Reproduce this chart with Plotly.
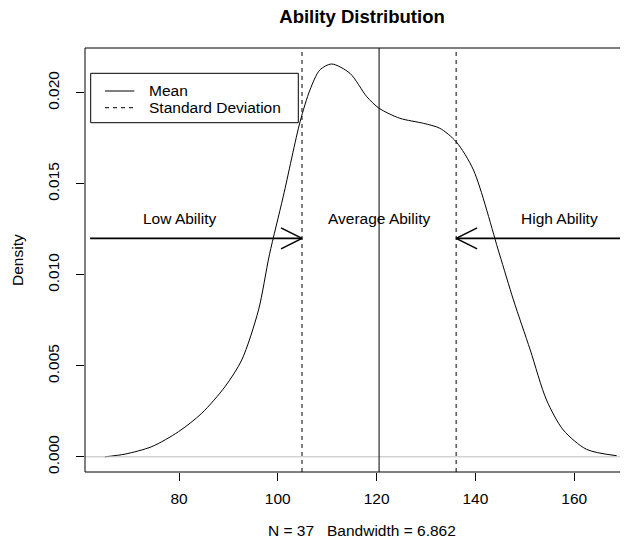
import plotly.graph_objects as go

# ---- data ----
DENS_X = [65.0, 69.1, 74.5, 79.9, 84.6, 89.3, 92.7, 96.1, 98.3, 101.1, 104.5, 106.5, 108.5,
          110.9, 114.6, 118.0, 120.5, 124.7, 129.5, 132.8, 136.1, 139.6, 144.8, 147.7,
          151.1, 154.4, 157.8, 162.5, 168.6]
DENS_Y = [0.0000, 0.00015, 0.00056, 0.00138, 0.00239, 0.00385, 0.00532, 0.00807, 0.0111,
          0.0143, 0.0184, 0.02015, 0.02125, 0.02158, 0.02107, 0.01979, 0.01915, 0.0186,
          0.01832, 0.01805, 0.01731, 0.01576, 0.0112, 0.00862, 0.00587, 0.00312, 0.00147,
          0.00041, 0.00006]
MEAN = 120.5
SD = 15.6
X_TICKS = [80, 100, 120, 140, 160]
Y_TICKS = [0.000, 0.005, 0.010, 0.015, 0.020]
Y_TICK_TEXT = ["0.000", "0.005", "0.010", "0.015", "0.020"]
REGION_LABELS = ["Low Ability", "Average Ability", "High Ability"]
REGION_LABEL_X = [80.0, MEAN, 157.1]
REGION_LABEL_Y = 0.0131
ARROW_Y = 0.012
LOW_ARROW_START = 62.0
HIGH_ARROW_START = 176.0
TITLE = "Ability Distribution"
XLAB = "N = 37\u00a0\u00a0\u00a0Bandwidth = 6.862"
YLAB = "Density"
LEGEND_ITEMS = ["Mean", "Standard Deviation"]

# ---- layout geometry (page has an 8px body margin) ----
OFF = 8
W, H = 628 - OFF, 542 - OFF
L, R, T, B = 85 - OFF, 0, 48 - OFF, 542 - 472
PW, PH = W - L - R, H - T - B
XR = [60.97, 170.89]
YR = [-0.000835, 0.02246]
FONT = "Liberation Sans, Arial, Helvetica, sans-serif"
FS = 15.5

def px_x(p):
    return (p - OFF - L) / PW

def px_y(p):
    return (H - B - (p - OFF)) / PH

xs_per_px = (XR[1] - XR[0]) / PW
ys_per_px = (YR[1] - YR[0]) / PH

fig = go.Figure()

# density curve
fig.add_trace(go.Scatter(x=DENS_X, y=DENS_Y, mode="lines",
                         line=dict(color="black", width=1, shape="spline", smoothing=0.8),
                         showlegend=False, hoverinfo="skip"))

# arrows (shaft + open head)
def arrow(x0, x1, y):
    d = 1 if x1 > x0 else -1
    hx = 21 * xs_per_px
    hy = 10.5 * ys_per_px
    xs = [x0, x1, None, x1 - d * hx, x1, x1 - d * hx]
    ys = [y, y, None, y + hy, y, y - hy]
    return go.Scatter(x=xs, y=ys, mode="lines", line=dict(color="black", width=1.6),
                      showlegend=False, hoverinfo="skip")

fig.add_trace(arrow(LOW_ARROW_START, MEAN - SD, ARROW_Y))
fig.add_trace(arrow(HIGH_ARROW_START, MEAN + SD, ARROW_Y))

shapes = []
# gray zero line
shapes.append(dict(type="line", xref="paper", yref="y", x0=0, x1=1, y0=0, y1=0,
                   line=dict(color="#BEBEBE", width=1)))
# mean and sd lines
shapes.append(dict(type="line", xref="x", yref="paper", x0=MEAN, x1=MEAN, y0=0, y1=1,
                   line=dict(color="black", width=1)))
for v in (MEAN - SD, MEAN + SD):
    shapes.append(dict(type="line", xref="x", yref="paper", x0=v, x1=v, y0=0, y1=1,
                       line=dict(color="black", width=1, dash="4px,4px")))
# box (right side clipped off in reference)
for (x0, y0, x1, y1) in [(0, 0, 0, 1), (0, 1, 1, 1), (0, 0, 1, 0)]:
    shapes.append(dict(type="line", xref="paper", yref="paper", x0=x0, y0=y0, x1=x1, y1=y1,
                       line=dict(color="black", width=1)))
# legend box
shapes.append(dict(type="rect", xref="paper", yref="paper",
                   x0=px_x(90.7), x1=px_x(298.3), y0=px_y(122.7), y1=px_y(73.3),
                   line=dict(color="black", width=1), fillcolor="white"))
shapes.append(dict(type="line", xref="paper", yref="paper",
                   x0=px_x(105), x1=px_x(134.3), y0=px_y(91), y1=px_y(91),
                   line=dict(color="black", width=1)))
shapes.append(dict(type="line", xref="paper", yref="paper",
                   x0=px_x(105), x1=px_x(134.3), y0=px_y(107.7), y1=px_y(107.7),
                   line=dict(color="black", width=1, dash="4px,4px")))

annotations = []
for txt, x in zip(REGION_LABELS, REGION_LABEL_X):
    annotations.append(dict(text=txt, x=x, y=REGION_LABEL_Y, xref="x", yref="y",
                            showarrow=False, xanchor="center", yanchor="middle",
                            font=dict(size=FS, color="black", family=FONT)))
for txt, yp in zip(LEGEND_ITEMS, (91, 107.7)):
    annotations.append(dict(text=txt, x=px_x(147), y=px_y(yp), xref="paper", yref="paper",
                            showarrow=False, xanchor="left", yanchor="middle",
                            font=dict(size=FS, color="black", family=FONT)))
annotations.append(dict(text=XLAB, x=px_x(362), y=px_y(530), xref="paper", yref="paper",
                        showarrow=False, xanchor="center", yanchor="middle",
                        font=dict(size=FS, color="black", family=FONT)))
annotations.append(dict(text=YLAB, x=px_x(17), y=px_y(260), xref="paper", yref="paper",
                        showarrow=False, xanchor="center", yanchor="middle", textangle=-90,
                        font=dict(size=FS, color="black", family=FONT)))

fig.update_layout(
    width=W, height=H,
    margin=dict(l=L, r=R, t=T, b=B, pad=0),
    paper_bgcolor="white", plot_bgcolor="white",
    font=dict(family=FONT, size=FS, color="black"),
    title=dict(text="<b>" + TITLE + "</b>", x=px_x(362), xref="paper", xanchor="center",
               y=1 - (17 - OFF) / H, yref="container", yanchor="middle",
               font=dict(size=18.5, color="black", family=FONT)),
    showlegend=False,
    shapes=shapes,
    annotations=annotations,
    xaxis=dict(range=XR, tickvals=X_TICKS, ticks="outside", ticklen=8, tickwidth=1,
               tickcolor="black", showgrid=False, zeroline=False, showline=False,
               tickfont=dict(size=FS, color="black", family=FONT), ticklabelstandoff=4,
               fixedrange=True),
    yaxis=dict(range=YR, tickvals=Y_TICKS, ticktext=Y_TICK_TEXT, ticks="outside", ticklen=8,
               tickwidth=1, tickcolor="black", showgrid=False, zeroline=False, showline=False,
               tickangle=-90, tickfont=dict(size=FS, color="black", family=FONT),
               ticklabelstandoff=11, fixedrange=True),
)

fig.write_html("out.html")
